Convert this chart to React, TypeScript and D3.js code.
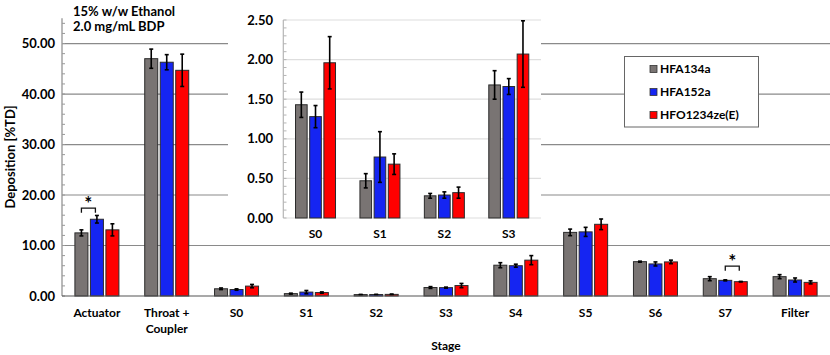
import React, { useEffect, useRef } from 'react';
import * as d3 from 'd3';

const categories = ['Actuator', 'Throat + Coupler', 'S0', 'S1', 'S2', 'S3', 'S4', 'S5', 'S6', 'S7', 'Filter'];
const series = ['HFA134a', 'HFA152a', 'HFO1234ze(E)'];
const colors = ['#797473', '#1525f2', '#ff0000'];

// mean deposition (%TD) per stage, one array per propellant
const hfa134a = [12.5, 47.0, 1.43, 0.47, 0.28, 1.68, 6.1, 12.6, 6.8, 3.43, 3.83];
const hfa152a = [15.2, 46.3, 1.28, 0.77, 0.29, 1.66, 6.0, 12.7, 6.35, 3.1, 3.17];
const hfo1234ze = [13.1, 44.7, 1.96, 0.68, 0.32, 2.07, 7.1, 14.2, 6.75, 2.84, 2.7];

// standard deviations
const sd134a = [0.6, 1.9, 0.16, 0.09, 0.03, 0.18, 0.5, 0.65, 0.1, 0.4, 0.4];
const sd152a = [0.75, 1.5, 0.14, 0.32, 0.04, 0.1, 0.3, 0.9, 0.4, 0.1, 0.4];
const sdHfo = [1.2, 3.2, 0.33, 0.13, 0.07, 0.42, 0.9, 1.05, 0.35, 0.05, 0.3];

const insetCategories = ['S0', 'S1', 'S2', 'S3'];
const yTicks = [0, 10, 20, 30, 40, 50];
const insetTicks = [0, 0.5, 1, 1.5, 2, 2.5];

// significance brackets: category, series pair, height (%TD)
const brackets = [
  { cat: 'Actuator', a: 0, b: 1, level: 17.4 },
  { cat: 'S7', a: 1, b: 2, level: 5.9 },
];

const FONT = 'Lato, "Open Sans", sans-serif';

export default function App() {
  const svgRef = useRef(null);

  useEffect(() => {
    const svg = d3.select(svgRef.current);
    svg.selectAll('*').remove();

    const means = [hfa134a, hfa152a, hfo1234ze];
    const sds = [sd134a, sd152a, sdHfo];
    const rows = categories.map((c, i) => ({
      cat: c,
      vals: series.map((s, k) => ({ k, v: means[k][i], e: sds[k][i] })),
    }));

    const x = d3.scaleBand().domain(categories).range([62, 830]);
    const y = d3.scaleLinear().domain([0, 55]).range([296, 18.3]);
    const sub = d3.scaleBand().domain(d3.range(3)).range([-22, 22]).paddingInner(0.16);

    // gridlines
    svg.append('g')
      .selectAll('line')
      .data(yTicks.filter((t) => t > 0))
      .enter()
      .append('line')
      .attr('x1', 62)
      .attr('x2', 830)
      .attr('y1', (d) => y(d))
      .attr('y2', (d) => y(d))
      .attr('stroke', '#8a8a8a')
      .attr('stroke-width', 1.2);

    // y axis + minor ticks
    svg.append('line')
      .attr('x1', 62).attr('x2', 62)
      .attr('y1', y(55)).attr('y2', y(0))
      .attr('stroke', '#8a8a8a').attr('stroke-width', 1.2);
    svg.append('g')
      .selectAll('line')
      .data(d3.range(0, 56, 2))
      .enter()
      .append('line')
      .attr('x1', 62).attr('x2', 65)
      .attr('y1', (d) => y(d)).attr('y2', (d) => y(d))
      .attr('stroke', '#999');

    svg.append('g')
      .selectAll('text')
      .data(yTicks)
      .enter()
      .append('text')
      .attr('x', 55)
      .attr('y', (d) => y(d))
      .attr('dy', '0.35em')
      .attr('text-anchor', 'end')
      .style('font', `bold 13px ${FONT}`)
      .text((d) => d3.format('.2f')(d));

    svg.append('text')
      .attr('transform', `translate(15,157) rotate(-90)`)
      .attr('text-anchor', 'middle')
      .style('font', `bold 13px ${FONT}`)
      .text('Deposition [%TD]');

    // bars
    const drawBars = (g, data, xs, ys, sb) => {
      const grp = g.selectAll('.grp')
        .data(data)
        .enter()
        .append('g')
        .attr('transform', (d) => `translate(${xs(d.cat) + xs.bandwidth() / 2},0)`);
      grp.selectAll('rect')
        .data((d) => d.vals)
        .enter()
        .append('rect')
        .attr('x', (d) => sb(d.k))
        .attr('width', sb.bandwidth())
        .attr('y', (d) => ys(d.v))
        .attr('height', (d) => ys(0) - ys(d.v))
        .attr('fill', (d) => colors[d.k])
        .attr('stroke', '#2b2b2b')
        .attr('stroke-width', 1);
      const eb = grp.selectAll('.err')
        .data((d) => d.vals)
        .enter()
        .append('g')
        .attr('stroke', '#000')
        .attr('stroke-width', 1.6);
      const cx = (d) => sb(d.k) + sb.bandwidth() / 2;
      eb.append('line')
        .attr('x1', cx).attr('x2', cx)
        .attr('y1', (d) => ys(d.v + d.e)).attr('y2', (d) => ys(Math.max(0, d.v - d.e)));
      [1, -1].forEach((s) => {
        eb.append('line')
          .attr('x1', (d) => cx(d) - 2).attr('x2', (d) => cx(d) + 2)
          .attr('y1', (d) => ys(Math.max(0, d.v + s * d.e)))
          .attr('y2', (d) => ys(Math.max(0, d.v + s * d.e)));
      });
    };

    drawBars(svg.append('g'), rows, x, y, sub);

    // x axis
    svg.append('line')
      .attr('x1', 62).attr('x2', 830)
      .attr('y1', y(0)).attr('y2', y(0))
      .attr('stroke', '#555').attr('stroke-width', 1.2);

    const xl = svg.append('g')
      .selectAll('text')
      .data(categories)
      .enter()
      .append('text')
      .attr('x', (d) => x(d) + x.bandwidth() / 2)
      .attr('y', 317)
      .attr('text-anchor', 'middle')
      .style('font', `bold 12px ${FONT}`);
    xl.each(function (d) {
      const parts = d === 'Throat + Coupler' ? ['Throat +', 'Coupler'] : [d];
      parts.forEach((p, i) => {
        d3.select(this).append('tspan')
          .attr('x', x(d) + x.bandwidth() / 2)
          .attr('dy', i === 0 ? 0 : 16)
          .text(p);
      });
    });

    svg.append('text')
      .attr('x', 446).attr('y', 350)
      .attr('text-anchor', 'middle')
      .style('font', `bold 12px ${FONT}`)
      .text('Stage');

    // significance brackets
    brackets.forEach((b) => {
      const c = x(b.cat) + x.bandwidth() / 2;
      const x1 = c + sub(b.a) + sub.bandwidth() / 2;
      const x2 = c + sub(b.b) + sub.bandwidth() / 2 - 1.5;
      const yb = y(b.level);
      svg.append('path')
        .attr('d', `M${x1},${yb + 4.5}V${yb}H${x2}V${yb + 4.5}`)
        .attr('fill', 'none')
        .attr('stroke', '#111')
        .attr('stroke-width', 1.3);
      svg.append('text')
        .attr('x', (x1 + x2) / 2).attr('y', yb + 2)
        .attr('text-anchor', 'middle')
        .style('font', `bold 19px ${FONT}`)
        .text('*');
    });

    // annotation
    svg.append('text').attr('x', 73).attr('y', 16)
      .style('font', `bold 13px ${FONT}`).text('15% w/w Ethanol');
    svg.append('text').attr('x', 73).attr('y', 31)
      .style('font', `bold 13px ${FONT}`).text('2.0 mg/mL BDP');

    // legend
    const lg = svg.append('g');
    lg.append('rect')
      .attr('x', 624.5).attr('y', 56.5).attr('width', 134).attr('height', 70.5)
      .attr('fill', '#fff').attr('stroke', '#666');
    series.forEach((s, i) => {
      const yy = 69 + i * 23;
      lg.append('rect')
        .attr('x', 650).attr('y', yy - 3.5).attr('width', 7).attr('height', 7)
        .attr('fill', colors[i]).attr('stroke', '#333').attr('stroke-width', 0.8);
      lg.append('text')
        .attr('x', 660).attr('y', yy).attr('dy', '0.35em')
        .style('font', `bold 12px ${FONT}`).text(s);
    });

    // inset
    const ins = svg.append('g');
    ins.append('rect')
      .attr('x', 228).attr('y', 0).attr('width', 313).attr('height', 243)
      .attr('fill', '#fff');
    const xi = d3.scaleBand().domain(insetCategories).range([283.3, 541]);
    const yi = d3.scaleLinear().domain([0, 2.5]).range([218, 20]);
    const subi = d3.scaleBand().domain(d3.range(3)).range([-20, 20]).paddingInner(0.18);

    ins.append('g')
      .selectAll('line')
      .data(insetTicks)
      .enter()
      .append('line')
      .attr('x1', 283.3).attr('x2', 541)
      .attr('y1', (d) => yi(d)).attr('y2', (d) => yi(d))
      .attr('stroke', '#dedede').attr('stroke-width', 1.2);
    ins.append('line')
      .attr('x1', 283.3).attr('x2', 283.3)
      .attr('y1', yi(2.5)).attr('y2', yi(0))
      .attr('stroke', '#b5b5b5').attr('stroke-width', 1.2);
    ins.append('g')
      .selectAll('line')
      .data(d3.range(0, 26).map((i) => i / 10))
      .enter()
      .append('line')
      .attr('x1', 283.3).attr('x2', 286.5)
      .attr('y1', (d) => yi(d)).attr('y2', (d) => yi(d))
      .attr('stroke', '#b5b5b5');
    ins.append('g')
      .selectAll('text')
      .data(insetTicks)
      .enter()
      .append('text')
      .attr('x', 273)
      .attr('y', (d) => yi(d))
      .attr('dy', '0.35em')
      .attr('text-anchor', 'end')
      .style('font', `bold 13px ${FONT}`)
      .text((d) => d3.format('.2f')(d));

    drawBars(ins.append('g'), rows.filter((r) => insetCategories.includes(r.cat)), xi, yi, subi);

    ins.append('g')
      .selectAll('text')
      .data(insetCategories)
      .enter()
      .append('text')
      .attr('x', (d) => xi(d) + xi.bandwidth() / 2)
      .attr('y', 238)
      .attr('text-anchor', 'middle')
      .style('font', `bold 12px ${FONT}`)
      .text((d) => d);
  }, []);

  return (
    <svg
      ref={svgRef}
      width={830}
      height={355}
      style={{ position: 'absolute', left: 0, top: 0, background: '#fff' }}
    />
  );
}
